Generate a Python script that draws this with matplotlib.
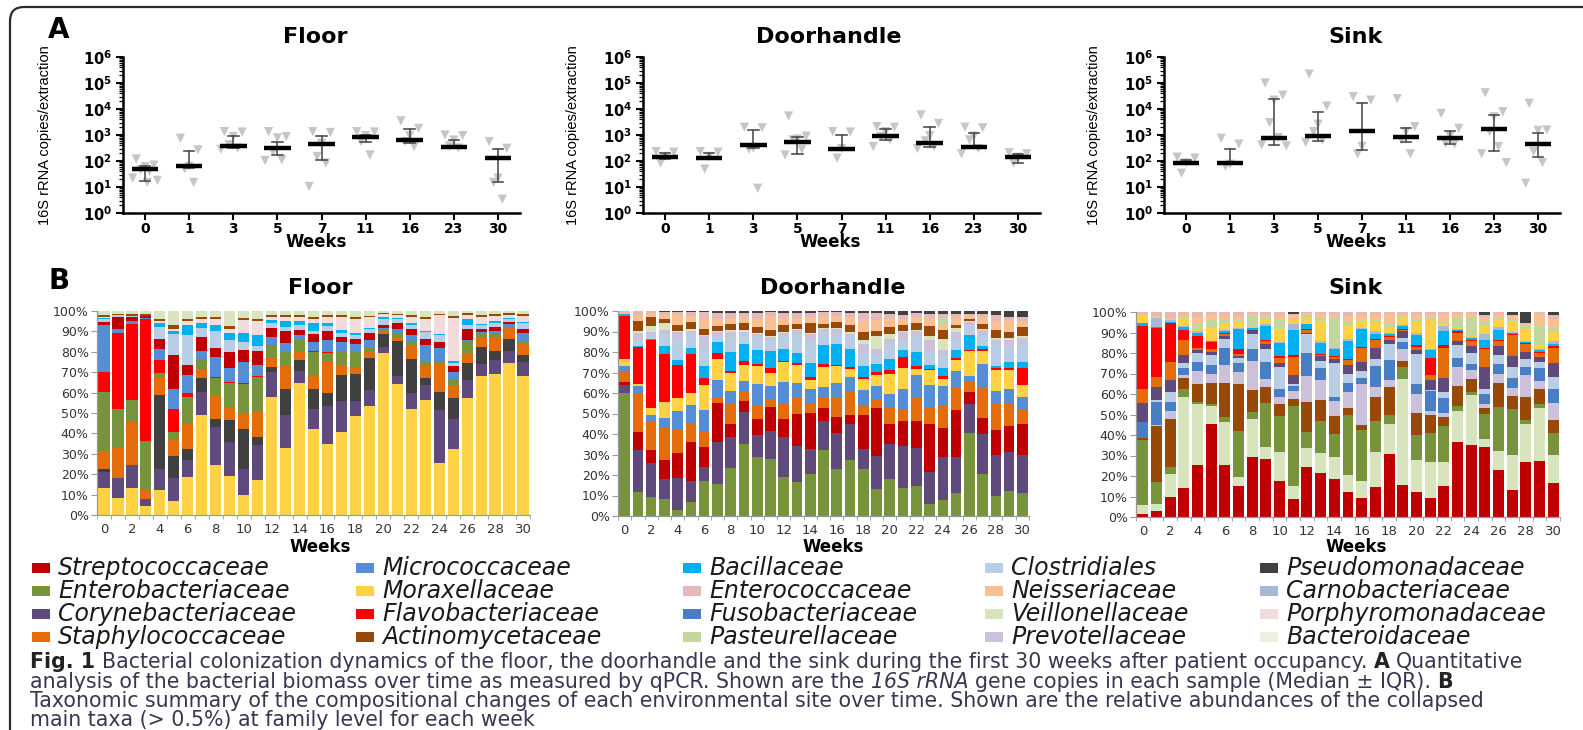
import numpy as np
import matplotlib
matplotlib.use("Agg")
import matplotlib.pyplot as plt
from matplotlib.patches import FancyBboxPatch, Rectangle
from matplotlib.transforms import IdentityTransform
from matplotlib.ticker import LogLocator, NullFormatter, FixedLocator

plt.rcParams['font.family'] = ['DejaVu Sans']
plt.rcParams['mathtext.fontset'] = 'dejavusans'

# ---------------- Panel A data (16S rRNA copies / extraction) ----------------
weeks_q = ["0", "1", "3", "5", "7", "11", "16", "23", "30"]

floor_median = [49, 67, 390, 330, 455, 870, 650, 340, 128]
floor_q1 = [17, 53, 310, 170, 110, 560, 480, 310, 15]
floor_q3 = [62, 250, 920, 560, 920, 1000, 1660, 650, 280]
floor_points = [
    [120, 70, 60, 45, 40, 22, 18, 15],
    [750, 270, 62, 50, 15],
    [1350, 1300, 880, 420, 320, 280],
    [1350, 870, 780, 230, 110, 105],
    [1350, 1250, 480, 150, 83, 10.5],
    [1350, 1300, 950, 560, 170],
    [3500, 1800, 950, 560, 360],
    [1000, 950, 640, 380, 320],
    [560, 310, 22, 15, 3.4],
]

door_median = [140, 128, 415, 525, 290, 920, 510, 360, 148]
door_q1 = [117, 117, 310, 188, 290, 650, 360, 310, 87]
door_q3 = [200, 200, 1560, 820, 1000, 1660, 1990, 1170, 188]
door_points = [
    [230, 220, 150, 83],
    [230, 220, 150, 49],
    [2000, 1900, 310, 280, 9],
    [5400, 900, 700, 650, 280, 170],
    [1350, 1300, 300, 128],
    [2100, 2000, 1350, 880, 650, 360],
    [5900, 2800, 950, 600, 360, 300],
    [2000, 1900, 900, 650, 300, 190],
    [210, 190, 140, 85],
]

sink_median = [83, 83, 790, 920, 1420, 820, 750, 1660, 455]
sink_q1 = [83, 83, 415, 610, 270, 560, 455, 245, 148]
sink_q3 = [110, 285, 25000, 7900, 17500, 1800, 1480, 5900, 1240]
sink_points = [
    [140, 130, 85, 34],
    [750, 450, 75, 62],
    [100000, 34000, 22000, 3000, 800, 420, 380],
    [220000, 13000, 2600, 1350, 650, 520],
    [30000, 22000, 360, 188],
    [25000, 2100, 1350, 650, 190],
    [6800, 1800, 900, 480, 440],
    [42000, 7900, 5000, 1350, 360, 190, 87],
    [16500, 1560, 1500, 230, 87, 14],
]

# ---------------- Panel B data (relative abundance, %) ----------------
weeks_b = list(range(31))

floor_moraxellaceae = [13.4, 8.2, 13, 4.5, 12.2, 7, 18.5, 49.4, 24.5, 19, 10, 17, 58, 33, 64.5, 42, 35, 40.5, 48.5, 53.5, 79.5, 64, 52, 56.5, 25.5, 32.5, 57.5, 68, 69, 74.5, 68]
floor_corynebacteriaceae = [7.6, 10.1, 11.5, 3.5, 10.3, 11, 8.5, 11, 18.5, 17, 12.5, 17.5, 12, 16, 6, 10, 18.5, 15, 7.5, 8, 3, 4, 8, 7, 26, 14.5, 8.5, 6, 7, 6, 7]
floor_pseudomonadaceae = [1.5, 0, 0, 0, 36.5, 11, 5.5, 7.3, 4, 10.5, 19.5, 3.5, 2.5, 13, 5.5, 10, 6.5, 12.5, 13, 15.5, 6, 17.5, 16.5, 3.5, 9, 10.5, 8.5, 8.5, 4.5, 6, 3.5]
floor_staphylococcaceae = [9, 14.7, 21, 4.5, 8.5, 8, 12, 4.1, 12, 6.5, 8, 13, 4.5, 11, 4.5, 6, 15.5, 5, 3.5, 3.5, 1.5, 2, 7, 6.5, 14, 6, 5, 5, 7, 5, 6]
floor_enterobacteriaceae = [28.9, 19, 10.5, 24, 2, 3.5, 13.5, 4.9, 8, 11.5, 14, 16.5, 6.5, 7, 5.5, 12, 4.5, 6.5, 7.5, 1.5, 1, 1, 1.5, 1.5, 1, 3, 6, 1, 1, 0.5, 0.5]
floor_flavobacteriaceae = [9.6, 37, 37, 59.5, 6.5, 11.5, 2, 0.3, 0.5, 0.5, 0.5, 0.5, 0, 0, 0, 0.5, 0.5, 0, 0, 0, 0, 0, 0, 0, 0, 0, 0, 0, 0, 0, 0]
floor_micrococcaceae = [23, 2, 1.5, 0.5, 5.5, 10, 8.5, 3.7, 10, 7, 10.5, 5.5, 4, 4.5, 2, 4.5, 5.5, 4.5, 4, 4, 0.5, 2.5, 3, 8.5, 6.5, 3.5, 0.5, 1, 1.5, 1.5, 4]
floor_streptococcaceae = [1.5, 6, 2, 1, 5, 16.5, 5, 6.9, 4.5, 8, 6, 7, 4, 5.5, 2.5, 3.5, 4.5, 2.5, 2.5, 3, 1.5, 3, 3, 3, 3, 3, 5, 1.5, 2, 1, 2]
floor_clostridiales = [1.5, 1, 0.5, 0, 5.5, 10, 14.5, 4.4, 8, 6, 4, 2.5, 2.5, 2, 2.5, 1.5, 2.5, 2, 1.5, 2, 3, 2, 2, 3, 3, 1.5, 2, 2, 2, 1.5, 3]
floor_bacillaceae = [0.5, 0, 0, 0, 2, 1.5, 5, 2.5, 3, 3, 4, 5, 1.5, 3, 2, 4, 1.5, 1.5, 1, 0.5, 1, 0.5, 1, 0.5, 0.5, 1, 3, 0.5, 1, 0.5, 0.5]
floor_porphyromonadaceae = [0.5, 0, 0, 0, 1, 1, 2, 2, 3, 2, 6.5, 7, 1.5, 2, 2, 2, 3, 6, 7, 5.5, 1.5, 1.5, 3, 6, 9.5, 21, 2, 3.5, 2.5, 1.5, 3]
floor_actinomycetaceae = [1, 0.5, 1, 1, 1, 2, 1, 1, 1, 1.5, 1, 1, 1, 1, 1, 1, 1, 1, 1, 0.5, 0.5, 0.5, 1, 1, 0.5, 1, 1, 1, 1, 1, 1]
floor_veillonellaceae = [2, 1.5, 1.5, 1.5, 4, 7, 4, 3, 3, 7.5, 3.5, 4, 2, 2, 2, 3, 2, 2, 3, 2.5, 1, 1.5, 2, 3, 1.5, 2.5, 1, 2, 1.5, 1, 1.5]

door_enterobacteriaceae = [60, 11.5, 9, 8, 3, 7, 17, 15.5, 23.5, 35, 29, 28, 19, 16.5, 20.5, 32, 23, 27, 22.5, 13, 18, 13.5, 14.5, 6, 8, 11, 40.5, 20.5, 10, 12, 11]
door_corynebacteriaceae = [4, 20.5, 16.5, 10, 15.5, 10, 7, 20.5, 15, 15.5, 10.5, 13.5, 19.5, 17.5, 12, 14.5, 17.5, 17.5, 10, 16, 17, 21, 18.5, 15.5, 21, 18, 14, 19.5, 20, 19, 19]
door_streptococcaceae = [1.5, 9, 6.5, 9, 12, 19, 9.5, 19, 6, 5.5, 8, 11.5, 9, 16, 17.5, 6, 8, 4.5, 16.5, 23.5, 10, 12, 13, 23.5, 14, 22.5, 6, 8, 12, 13, 15]
door_staphylococcaceae = [5, 18.5, 14, 15.5, 11.5, 9, 7.5, 3, 10.5, 4.5, 6.5, 3.5, 7, 8, 5, 5.5, 9, 11, 4.5, 4, 8, 6, 11.5, 7.5, 10.5, 11, 5.5, 15, 13, 11, 7]
door_micrococcaceae = [2.5, 3.5, 3, 5, 8.5, 9, 10.5, 8, 5.5, 5.5, 10.5, 7, 11, 7, 6.5, 5, 7.5, 7, 7.5, 6.5, 6.5, 10, 11, 11.5, 10, 8, 2.5, 11, 6, 7, 6]
door_moraxellaceae = [3.5, 1, 3.5, 7.5, 6.5, 5.5, 12, 10, 9, 7.5, 8.5, 6.5, 9.5, 8.5, 4.5, 9.5, 8, 4, 5, 5.5, 10, 10, 3, 7, 3.5, 5.5, 12, 6.5, 10, 9, 6]
door_flavobacteriaceae = [21, 18, 33, 23, 16, 19, 3.5, 3, 1, 2, 1, 2, 0.5, 1, 1.5, 1.5, 0.5, 1, 1, 1.5, 1.5, 5.5, 1.5, 0.5, 1.5, 1, 0.5, 1, 1, 1, 8]
door_bacillaceae = [1, 0.5, 0.5, 4, 2.5, 3, 6, 5.5, 9, 8.5, 7, 8.5, 6, 5, 7, 9.5, 10.5, 8.5, 5.5, 4, 5.5, 3.5, 6.5, 2, 3.5, 4, 7.5, 1.5, 1, 3, 3]
door_clostridiales = [0.5, 3.5, 2, 6, 10.5, 7.5, 9, 3.5, 7.5, 5, 7, 5.5, 6.5, 9.5, 10.5, 6.5, 5, 6.5, 6, 4, 7.5, 5.5, 7.5, 6.5, 6, 5.5, 4.5, 5, 11, 8, 9]
door_prevotellaceae = [0, 3, 1.5, 2, 3, 1, 5.5, 1.5, 2.5, 1, 1, 1.5, 1.5, 1.5, 3.5, 1, 2, 1, 4.5, 3, 2.5, 3, 3, 6, 3, 3.5, 1.5, 2.5, 2, 3, 3]
door_veillonellaceae = [0, 1, 2.5, 3, 0.5, 1, 0.5, 0.5, 1, 0.5, 0.5, 0.5, 0.5, 0.5, 0.5, 0.5, 0.5, 1, 2, 6.5, 2.5, 0.5, 0.5, 2, 5.5, 1.5, 0.5, 0.5, 1, 1, 1]
door_actinomycetaceae = [0, 4.5, 4.5, 2, 2.5, 3, 3, 2, 2.5, 3.5, 2.5, 2.5, 3, 2.5, 4.5, 2, 3, 3, 4, 2.5, 3, 3, 3, 4.5, 4, 1.5, 1, 2.5, 3.5, 3, 4]
door_neisseriaceae = [0.5, 2.5, 1.5, 2, 5, 3, 4.5, 3.5, 3, 2.5, 4, 7, 3.5, 3, 3, 3.5, 3, 4, 5, 5, 4, 3, 3, 4, 2.5, 4, 1.5, 3.5, 4.5, 5, 3]
door_pasteurellaceae = [0, 0, 0, 0, 0, 0, 0, 0, 0, 0, 0, 0, 0, 0, 0, 0, 0, 0, 0, 0, 0, 0, 0, 0, 4, 0, 0, 0, 0, 0, 0]
door_enterococcaceae = [0.5, 2.5, 1.5, 1.5, 1.5, 2, 3.5, 3, 2.5, 2.5, 3, 2, 2.5, 2.5, 2, 2.5, 2, 2, 4, 3.5, 2.5, 2, 2, 2, 1.5, 1.5, 1, 1.5, 3, 2, 2]
door_pseudomonadaceae = [0, 0, 0, 0.5, 0.5, 0.5, 0.5, 1, 1, 1, 1, 0.5, 1, 1, 1, 0.5, 0.5, 1, 1, 1, 1.5, 2, 1, 1.5, 1.5, 1.5, 1.5, 1.5, 2, 3, 3]

sink_streptococcaceae = [1.5, 3, 10, 14, 25.5, 45.5, 25.5, 15, 29.5, 28.5, 17.5, 8.5, 24.5, 21.5, 18.5, 12, 9.5, 14.5, 30.5, 15.5, 12, 9.5, 15, 36.5, 35, 34, 23, 13, 26.5, 27, 16.5]
sink_veillonellaceae = [4.5, 3.5, 11, 44.5, 29.5, 8.5, 21, 4.5, 18.5, 5.5, 14, 6.5, 9, 9.5, 11, 8.5, 8, 17, 15, 52, 16, 17.5, 12, 15, 24.5, 4, 9, 17, 18.5, 25.5, 13.5]
sink_enterobacteriaceae = [31.5, 10.5, 3.5, 4, 1, 1, 2.5, 22.5, 3, 21.5, 18, 39, 8, 16, 11, 29.5, 25, 15.5, 4.5, 5.5, 12, 14, 17.5, 2.5, 1.5, 12, 21.5, 22.5, 2, 2, 10.5]
sink_actinomycetaceae = [1, 27.5, 23.5, 5.5, 9, 10.5, 16.5, 23, 11, 8, 5.5, 3.5, 14.5, 10, 9, 3, 2.5, 11.5, 13.5, 3, 10.5, 9, 4.5, 10, 6.5, 3, 12, 6, 11, 7.5, 6]
sink_prevotellaceae = [0, 0.5, 3.5, 1.5, 6, 4.5, 8.5, 5.5, 14, 4, 3.5, 3.5, 13, 10, 7, 8, 20, 5, 3.5, 6, 9.5, 1.5, 1.5, 9, 4, 2, 4.5, 4, 10.5, 3.5, 8.5]
sink_fusobacteriaceae = [7.5, 11, 4.5, 3, 4.5, 4, 8.5, 4.5, 6, 8, 4, 2.5, 11, 5.5, 2, 4.5, 3, 10, 9.5, 3.5, 5, 10, 7.5, 4.5, 3, 4.5, 4.5, 5, 4, 6.5, 6.5]
sink_clostridiales = [0, 1, 5, 2.5, 4.5, 5, 4.5, 2.5, 7.5, 6.5, 10.5, 1, 9.5, 3.5, 16.5, 4.5, 3, 3.5, 8, 2, 14.5, 0.5, 3, 6.5, 5.5, 2.5, 4.5, 5.5, 4, 3, 6]
sink_corynebacteriaceae = [9.5, 6.5, 6, 4, 1.5, 1.5, 1.5, 1, 1.5, 2.5, 2, 4.5, 0.5, 2.5, 2, 4, 4.5, 5.5, 2, 3, 2, 5, 7, 2, 3.5, 11, 4.5, 5, 3, 2.5, 6.5]
sink_staphylococcaceae = [6.5, 5, 8.5, 7.5, 1, 1.5, 1, 1, 0.5, 1.5, 2.5, 8.5, 1, 0.5, 1, 2.5, 7, 4, 1.5, 0.5, 1.5, 2.5, 14.5, 4, 2.5, 8.5, 2.5, 10.5, 4, 1.5, 7]
sink_flavobacteriaceae = [30.5, 23.5, 19, 4.5, 6, 3.5, 0.5, 2.5, 0, 0.5, 1, 1, 0.5, 0.5, 0.5, 0.5, 0.5, 0.5, 0.5, 0.5, 1, 8, 1.5, 0.5, 0.5, 0.5, 0.5, 0.5, 0.5, 0.5, 1]
sink_bacillaceae = [1.5, 0.5, 0.5, 1.5, 1.5, 0.5, 0.5, 9.5, 0.5, 6.5, 6.5, 12.5, 2.5, 5.5, 3.5, 9, 8.5, 2.5, 1, 1.5, 5, 4, 6.5, 0.5, 1, 4, 4.5, 0.5, 0.5, 1, 1]
sink_carnobacteriaceae = [0, 4.5, 1, 0.5, 0.5, 0, 0.5, 0.5, 0, 1, 0.5, 2.5, 0, 1, 0.5, 1, 0.5, 1, 0.5, 0.5, 1, 0.5, 2.5, 0.5, 0.5, 3, 1.5, 0.5, 0.5, 0.5, 1.5]
sink_moraxellaceae = [3.5, 0, 0, 3.5, 0.5, 6, 3, 3.5, 0, 2, 6, 2, 3, 9.5, 0.5, 6, 3.5, 4.5, 2, 4, 5, 14, 1, 0.5, 0.5, 3.5, 3.5, 5, 6, 2, 4.5]
sink_pasteurellaceae = [0, 0, 0, 0.5, 3.5, 4, 2, 0.5, 6, 1, 4.5, 0.5, 1.5, 1.5, 14.5, 2, 0.5, 1, 2, 0.5, 1.5, 1, 1, 5, 9, 2.5, 1, 1, 1, 9, 2.5]
sink_neisseriaceae = [1, 1, 1, 2, 3, 2.5, 2, 2, 1, 1.5, 2, 2, 1, 2, 1.5, 3, 2.5, 2.5, 5, 1, 2, 2, 4, 2, 1.5, 2, 2, 1.5, 1, 6, 3.5]
sink_enterococcaceae = [1, 2, 3, 1, 2.5, 1.5, 2, 2, 1, 1.5, 2, 0.5, 0.5, 1, 1, 2, 1.5, 1.5, 1, 1, 1.5, 1, 1, 1, 1, 1, 1, 0.5, 0.5, 1, 2]
sink_pseudomonadaceae = [0, 0, 0, 0, 0, 0, 0, 0, 0, 0, 0, 1, 0, 0, 0, 0, 0, 0, 0, 0, 0, 0, 0, 0, 0, 1.5, 0, 1.5, 5.5, 0, 1.5]

# legend (column-major, 5 columns x 4 rows)
legend_taxa = [
    "Streptococcaceae", "Enterobacteriaceae", "Corynebacteriaceae", "Staphylococcaceae",
    "Micrococcaceae", "Moraxellaceae", "Flavobacteriaceae", "Actinomycetaceae",
    "Bacillaceae", "Enterococcaceae", "Fusobacteriaceae", "Pasteurellaceae",
    "Clostridiales", "Neisseriaceae", "Veillonellaceae", "Prevotellaceae",
    "Pseudomonadaceae", "Carnobacteriaceae", "Porphyromonadaceae", "Bacteroidaceae",
]

colors = {
    "Streptococcaceae": "#C00000", "Enterobacteriaceae": "#77933C",
    "Corynebacteriaceae": "#604A7B", "Staphylococcaceae": "#E46C0A",
    "Micrococcaceae": "#558ED5", "Moraxellaceae": "#FFD145",
    "Flavobacteriaceae": "#FF0000", "Actinomycetaceae": "#984807",
    "Bacillaceae": "#00B0F0", "Enterococcaceae": "#E6B9B8",
    "Fusobacteriaceae": "#4A7EC4", "Pasteurellaceae": "#C3D69B",
    "Clostridiales": "#B9CDE5", "Neisseriaceae": "#FAC090",
    "Veillonellaceae": "#D7E4BD", "Prevotellaceae": "#CCC1DA",
    "Pseudomonadaceae": "#404040", "Carnobacteriaceae": "#A7B9D8",
    "Porphyromonadaceae": "#F2DCDB", "Bacteroidaceae": "#EBF1DE",
}

floor_stack = [
    ("Moraxellaceae", floor_moraxellaceae), ("Corynebacteriaceae", floor_corynebacteriaceae),
    ("Pseudomonadaceae", floor_pseudomonadaceae), ("Staphylococcaceae", floor_staphylococcaceae),
    ("Enterobacteriaceae", floor_enterobacteriaceae), ("Flavobacteriaceae", floor_flavobacteriaceae),
    ("Micrococcaceae", floor_micrococcaceae), ("Streptococcaceae", floor_streptococcaceae),
    ("Clostridiales", floor_clostridiales), ("Bacillaceae", floor_bacillaceae),
    ("Porphyromonadaceae", floor_porphyromonadaceae), ("Actinomycetaceae", floor_actinomycetaceae),
    ("Veillonellaceae", floor_veillonellaceae),
]
door_stack = [
    ("Enterobacteriaceae", door_enterobacteriaceae), ("Corynebacteriaceae", door_corynebacteriaceae),
    ("Streptococcaceae", door_streptococcaceae), ("Staphylococcaceae", door_staphylococcaceae),
    ("Micrococcaceae", door_micrococcaceae), ("Moraxellaceae", door_moraxellaceae),
    ("Flavobacteriaceae", door_flavobacteriaceae), ("Bacillaceae", door_bacillaceae),
    ("Clostridiales", door_clostridiales), ("Prevotellaceae", door_prevotellaceae),
    ("Veillonellaceae", door_veillonellaceae), ("Actinomycetaceae", door_actinomycetaceae),
    ("Neisseriaceae", door_neisseriaceae), ("Pasteurellaceae", door_pasteurellaceae),
    ("Enterococcaceae", door_enterococcaceae), ("Pseudomonadaceae", door_pseudomonadaceae),
]
sink_stack = [
    ("Streptococcaceae", sink_streptococcaceae), ("Veillonellaceae", sink_veillonellaceae),
    ("Enterobacteriaceae", sink_enterobacteriaceae), ("Actinomycetaceae", sink_actinomycetaceae),
    ("Prevotellaceae", sink_prevotellaceae), ("Fusobacteriaceae", sink_fusobacteriaceae),
    ("Clostridiales", sink_clostridiales), ("Corynebacteriaceae", sink_corynebacteriaceae),
    ("Staphylococcaceae", sink_staphylococcaceae), ("Flavobacteriaceae", sink_flavobacteriaceae),
    ("Bacillaceae", sink_bacillaceae), ("Carnobacteriaceae", sink_carnobacteriaceae),
    ("Moraxellaceae", sink_moraxellaceae), ("Pasteurellaceae", sink_pasteurellaceae),
    ("Neisseriaceae", sink_neisseriaceae), ("Enterococcaceae", sink_enterococcaceae),
    ("Pseudomonadaceae", sink_pseudomonadaceae),
]

# ---------------- figure ----------------
W, H = 1583, 730
fig = plt.figure(figsize=(W / 100, H / 100), dpi=100)
renderer = fig.canvas.get_renderer()


def rect(x0, y0, x1, y1):
    return [x0 / W, 1 - y1 / H, (x1 - x0) / W, (y1 - y0) / H]


def ftext(x, y, s, **kw):
    return fig.text(x / W, 1 - y / H, s, **kw)


# outer rounded frame
frame = FancyBboxPatch((10, -60), 2000, H - 7 + 60, boxstyle="round,pad=0,rounding_size=14",
                       transform=IdentityTransform(), facecolor="none", edgecolor="#2a2a2a", lw=1.6)
fig.add_artist(frame)

# ---- Panel A ----
jitter = [-0.2, 0.2, 0.0, -0.1, 0.1, -0.28, 0.28, 0.05]
A_boxes = [(123, 57, 520, 213), (643, 57, 1040, 213), (1164, 57, 1560, 213)]
A_data = [(floor_median, floor_q1, floor_q3, floor_points),
          (door_median, door_q1, door_q3, door_points),
          (sink_median, sink_q1, sink_q3, sink_points)]
A_titles = [("Floor", 315), ("Doorhandle", 829), ("Sink", 1355)]
A_ylab = [-0.179, -0.159, -0.159]

for box, (med, q1, q3, pts), (title, tx), yl in zip(A_boxes, A_data, A_titles, A_ylab):
    ax = fig.add_axes(rect(*box))
    for i in range(len(weeks_q)):
        p = pts[i]
        xs = [i + jitter[k % len(jitter)] for k in range(len(p))]
        ax.scatter(xs, p, marker="v", s=44, color="#c6c6c6", edgecolors="none", zorder=2)
        ax.plot([i, i], [q1[i], q3[i]], color="#505050", lw=1.2, zorder=3)
        for q in (q1[i], q3[i]):
            ax.plot([i - 0.12, i + 0.12], [q, q], color="#505050", lw=1.2, zorder=3)
        ax.plot([i - 0.3, i + 0.3], [med[i], med[i]], color="black", lw=3.2, zorder=4,
                solid_capstyle="butt")
    ax.set_yscale("log")
    ax.set_ylim(1, 1e6)
    ax.set_xlim(-0.5, 8.5)
    ax.yaxis.set_major_locator(FixedLocator([10.0 ** k for k in range(7)]))
    ax.set_yticklabels([r"$\mathbf{10^{%d}}$" % k for k in range(7)], fontsize=10.5)
    ax.yaxis.set_minor_locator(LogLocator(base=10, subs=np.arange(2, 10), numticks=20))
    ax.yaxis.set_minor_formatter(NullFormatter())
    ax.set_xticks(range(len(weeks_q)))
    ax.set_xticklabels(weeks_q, fontweight="bold", fontsize=10)
    for s in ("top", "right"):
        ax.spines[s].set_visible(False)
    for s in ("left", "bottom"):
        ax.spines[s].set_linewidth(1.8)
    ax.tick_params(axis="both", which="major", length=5, width=1.5, direction="out")
    ax.tick_params(axis="x", which="major", pad=1.5)
    ax.tick_params(axis="y", which="major", pad=3)
    ax.tick_params(axis="y", which="minor", length=3, width=0.9)
    ax.set_ylabel("16S rRNA copies/extraction", fontsize=10.5, family="Liberation Sans")
    ax.yaxis.set_label_coords(yl, 0.5)
    ax.patch.set_alpha(0)
    ftext(tx, 37, title, fontsize=16, fontweight="bold", ha="center", va="center")
    ftext(tx + 1, 242, "Weeks", fontsize=12, fontweight="bold", ha="center", va="center")

ftext(59, 30, "A", fontsize=20, fontweight="bold", ha="center", va="center")
ftext(59, 281, "B", fontsize=20, fontweight="bold", ha="center", va="center")

# ---- Panel B ----
B_boxes = [(97, 311, 530, 515), (618, 311, 1029, 516), (1136, 312, 1560, 517)]
B_stacks = [floor_stack, door_stack, sink_stack]
B_titles = [("Floor", 320), ("Doorhandle", 833), ("Sink", 1356)]

for box, stack, (title, tx) in zip(B_boxes, B_stacks, B_titles):
    ax = fig.add_axes(rect(*box))
    x = np.array(weeks_b)
    total = np.zeros(len(x))
    for name, vals in stack:
        total += np.array(vals, float)
    bottom = np.zeros(len(x))
    for name, vals in stack:
        v = np.array(vals, float) / total * 100.0
        ax.bar(x, v, bottom=bottom, width=0.8, color=colors[name], linewidth=0)
        bottom += v
    ax.set_xlim(-0.5, 30.5)
    ax.set_ylim(0, 100)
    ax.set_yticks(range(0, 101, 10))
    ax.set_yticklabels(["%d%%" % k for k in range(0, 101, 10)], fontsize=9, color="#333333")
    ax.set_xticks(range(0, 31, 2))
    ax.set_xticklabels([str(k) for k in range(0, 31, 2)], fontsize=9.5, color="#333333")
    ax.set_xticks(np.arange(-0.5, 31, 1), minor=True)
    for s in ("top", "right"):
        ax.spines[s].set_visible(False)
    for s in ("left", "bottom"):
        ax.spines[s].set_color("#9a9a9a")
        ax.spines[s].set_linewidth(0.9)
    ax.tick_params(axis="y", length=4, color="#9a9a9a", pad=2)
    ax.tick_params(axis="x", which="major", length=0, pad=6)
    ax.tick_params(axis="x", which="minor", length=3, color="#9a9a9a")
    ax.patch.set_alpha(0)
    ftext(tx, 288, title, fontsize=16, fontweight="bold", ha="center", va="center")
    ftext(tx, 547, "Weeks", fontsize=12, fontweight="bold", ha="center", va="center")

# ---- Legend ----
col_x = [32, 356, 683, 985, 1260]
row_y = [568, 591, 614, 637]
for k, name in enumerate(legend_taxa):
    cx = col_x[k // 4]
    ry = row_y[k % 4]
    fig.add_artist(Rectangle((cx / W, 1 - (ry + 5) / H), 18 / W, 10 / H,
                             transform=fig.transFigure, facecolor=colors[name], edgecolor="none"))
    ftext(cx + 26, ry, name, fontsize=17, fontstyle="italic", ha="left", va="center", color="#1a1a1a")

# ---- Caption ----
cap_color = "#3b3550"
cap_size = 14.8


def measure(s, **kw):
    t = fig.text(0, 0, s, fontsize=cap_size, **kw)
    w = t.get_window_extent(renderer).width
    t.remove()
    return w


space_w = measure("a a") - measure("aa")


def draw_runs(x, y, runs):
    for s, style in runs:
        kw = {}
        if style == "b":
            kw["fontweight"] = "bold"
        if style == "i":
            kw["fontstyle"] = "italic"
        lead = len(s) - len(s.lstrip(" "))
        trail = len(s) - len(s.rstrip(" "))
        x += lead * space_w
        col = "#222222" if style == "b" else cap_color
        t = ftext(x, y, s.strip(" "), fontsize=cap_size, color=col, va="baseline", ha="left", **kw)
        x += t.get_window_extent(renderer).width + trail * space_w


caption_lines = [
    [("Fig. 1", "b"), (" Bacterial colonization dynamics of the floor, the doorhandle and the sink during the first 30 weeks after patient occupancy. ", "n"), ("A", "b"), (" Quantitative", "n")],
    [("analysis of the bacterial biomass over time as measured by qPCR. Shown are the ", "n"), ("16S rRNA", "i"), (" gene copies in each sample (Median \u00b1 IQR). ", "n"), ("B", "b")],
    [("Taxonomic summary of the compositional changes of each environmental site over time. Shown are the relative abundances of the collapsed", "n")],
    [("main taxa (> 0.5%) at family level for each week", "n")],
]
cap_base = [668, 688, 707, 726]
for runs, yb in zip(caption_lines, cap_base):
    draw_runs(30, yb, runs)

fig.savefig("out.png", dpi=100)
